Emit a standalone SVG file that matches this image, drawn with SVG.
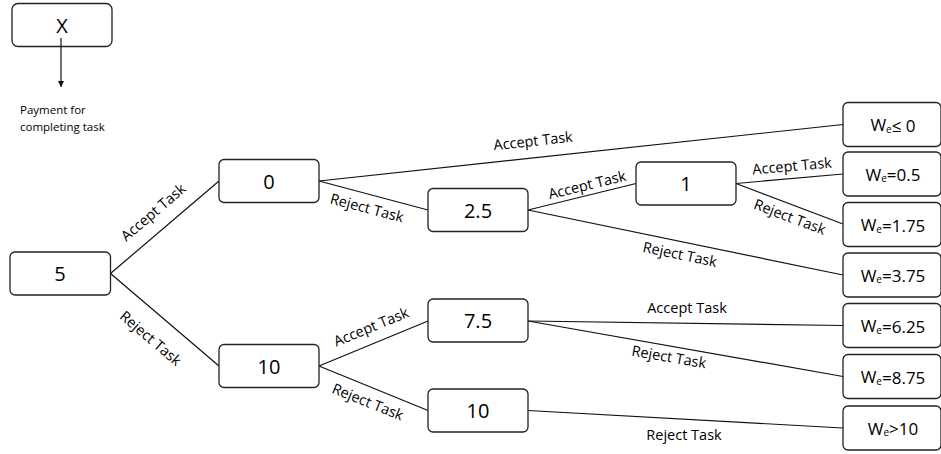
<svg xmlns="http://www.w3.org/2000/svg" width="941" height="454" viewBox="0 0 941 454">
<style>
.box{fill:#fff;stroke:#222;stroke-width:1.3}
.nt{font-family:"Open Sans","Liberation Sans",sans-serif;font-size:20px;fill:#000;text-anchor:middle;dominant-baseline:central}
.wt{font-family:"Open Sans","Liberation Sans",sans-serif;font-size:17px;fill:#000;text-anchor:middle;dominant-baseline:central}
.sub{font-size:10px}
.lbl{font-family:"Open Sans","Liberation Sans",sans-serif;font-size:14.5px;fill:#000;text-anchor:middle;dominant-baseline:central}
.cap{font-family:"Open Sans","Liberation Sans",sans-serif;font-size:11.5px;fill:#000}
.ln{stroke:#111;stroke-width:1.2;fill:none}
</style>
<defs>
<marker id="ah" viewBox="0 0 10 10" refX="10" refY="5" markerWidth="6" markerHeight="6" orient="auto" markerUnits="userSpaceOnUse">
<path d="M0,0 L10,5 L0,10 z" fill="#111"/>
</marker>
</defs>
<g id="legend">
<rect class="box" x="12" y="3.5" width="100" height="43" rx="6"/>
<text class="nt" x="62" y="25">X</text>
<line class="ln" x1="61" y1="38" x2="61" y2="87" stroke-width="0.9" marker-end="url(#ah)"/>
<text class="cap" x="20" y="114">Payment for</text>
<text class="cap" x="20" y="131">completing task</text>
</g>
<g id="connectors">
<line class="ln" x1="110.5" y1="273.5" x2="219" y2="181"/>
<line class="ln" x1="110.5" y1="273.5" x2="219" y2="366"/>
<line class="ln" x1="319" y1="181" x2="843" y2="124.5"/>
<line class="ln" x1="319" y1="181" x2="428" y2="210"/>
<line class="ln" x1="528" y1="210" x2="636" y2="183.5"/>
<line class="ln" x1="528" y1="210" x2="843" y2="275"/>
<line class="ln" x1="736" y1="183.5" x2="843" y2="174"/>
<line class="ln" x1="736" y1="183.5" x2="843" y2="224"/>
<line class="ln" x1="319" y1="366" x2="428" y2="321"/>
<line class="ln" x1="319" y1="366" x2="428" y2="410.5"/>
<line class="ln" x1="528" y1="321" x2="843" y2="325.5"/>
<line class="ln" x1="528" y1="321" x2="843" y2="376.5"/>
<line class="ln" x1="528" y1="410.5" x2="843" y2="428"/>
<text class="lbl" transform="translate(153,212) rotate(-40.6)">Accept Task</text>
<text class="lbl" transform="translate(151,338) rotate(40.4)">Reject Task</text>
<text class="lbl" transform="translate(533,140.5) rotate(-6.2)">Accept Task</text>
<text class="lbl" transform="translate(367,207.5) rotate(14.9)">Reject Task</text>
<text class="lbl" transform="translate(587,184.5) rotate(-13.8)">Accept Task</text>
<text class="lbl" transform="translate(680,254) rotate(11.7)">Reject Task</text>
<text class="lbl" transform="translate(792,165.5) rotate(-5)">Accept Task</text>
<text class="lbl" transform="translate(790,216.5) rotate(20.7)">Reject Task</text>
<text class="lbl" transform="translate(371,326.5) rotate(-22.4)">Accept Task</text>
<text class="lbl" transform="translate(368,401.5) rotate(22)">Reject Task</text>
<text class="lbl" transform="translate(687,307.5)">Accept Task</text>
<text class="lbl" transform="translate(669,356.5) rotate(9.9)">Reject Task</text>
<text class="lbl" transform="translate(684,434.5)">Reject Task</text>
</g>
<g id="n5"><rect class="box" x="10" y="252" width="100.5" height="43" rx="5"/><text class="nt" x="60" y="273.5">5</text></g>
<g id="n0"><rect class="box" x="219" y="159.5" width="100" height="43" rx="5"/><text class="nt" x="269" y="181">0</text></g>
<g id="n10"><rect class="box" x="219" y="344.5" width="100" height="43" rx="5"/><text class="nt" x="269" y="366">10</text></g>
<g id="n2_5"><rect class="box" x="428" y="188.5" width="100" height="43" rx="5"/><text class="nt" x="478" y="210">2.5</text></g>
<g id="n1"><rect class="box" x="636" y="162" width="100" height="43" rx="5"/><text class="nt" x="686" y="183.5">1</text></g>
<g id="n7_5"><rect class="box" x="428" y="299" width="100" height="43" rx="5"/><text class="nt" x="478" y="320.5">7.5</text></g>
<g id="n10b"><rect class="box" x="428" y="389" width="100" height="43" rx="5"/><text class="nt" x="478" y="410.5">10</text></g>
<g id="w1"><rect class="box" x="843" y="102.5" width="98" height="44" rx="5"/><text class="wt" x="893" y="124.5">W<tspan class="sub" dy="4">e</tspan><tspan dy="-4">≤ 0</tspan></text></g>
<g id="w2"><rect class="box" x="843" y="152" width="98" height="44" rx="5"/><text class="wt" x="893" y="174">W<tspan class="sub" dy="4">e</tspan><tspan dy="-4">=0.5</tspan></text></g>
<g id="w3"><rect class="box" x="843" y="202.5" width="98" height="44" rx="5"/><text class="wt" x="893" y="224.5">W<tspan class="sub" dy="4">e</tspan><tspan dy="-4">=1.75</tspan></text></g>
<g id="w4"><rect class="box" x="843" y="253" width="98" height="44" rx="5"/><text class="wt" x="893" y="275">W<tspan class="sub" dy="4">e</tspan><tspan dy="-4">=3.75</tspan></text></g>
<g id="w5"><rect class="box" x="843" y="303.5" width="98" height="44" rx="5"/><text class="wt" x="893" y="325.5">W<tspan class="sub" dy="4">e</tspan><tspan dy="-4">=6.25</tspan></text></g>
<g id="w6"><rect class="box" x="843" y="354.5" width="98" height="44" rx="5"/><text class="wt" x="893" y="376.5">W<tspan class="sub" dy="4">e</tspan><tspan dy="-4">=8.75</tspan></text></g>
<g id="w7"><rect class="box" x="843" y="406" width="98" height="44" rx="5"/><text class="wt" x="893" y="428">W<tspan class="sub" dy="4">e</tspan><tspan dy="-4">&gt;10</tspan></text></g>
</svg>
